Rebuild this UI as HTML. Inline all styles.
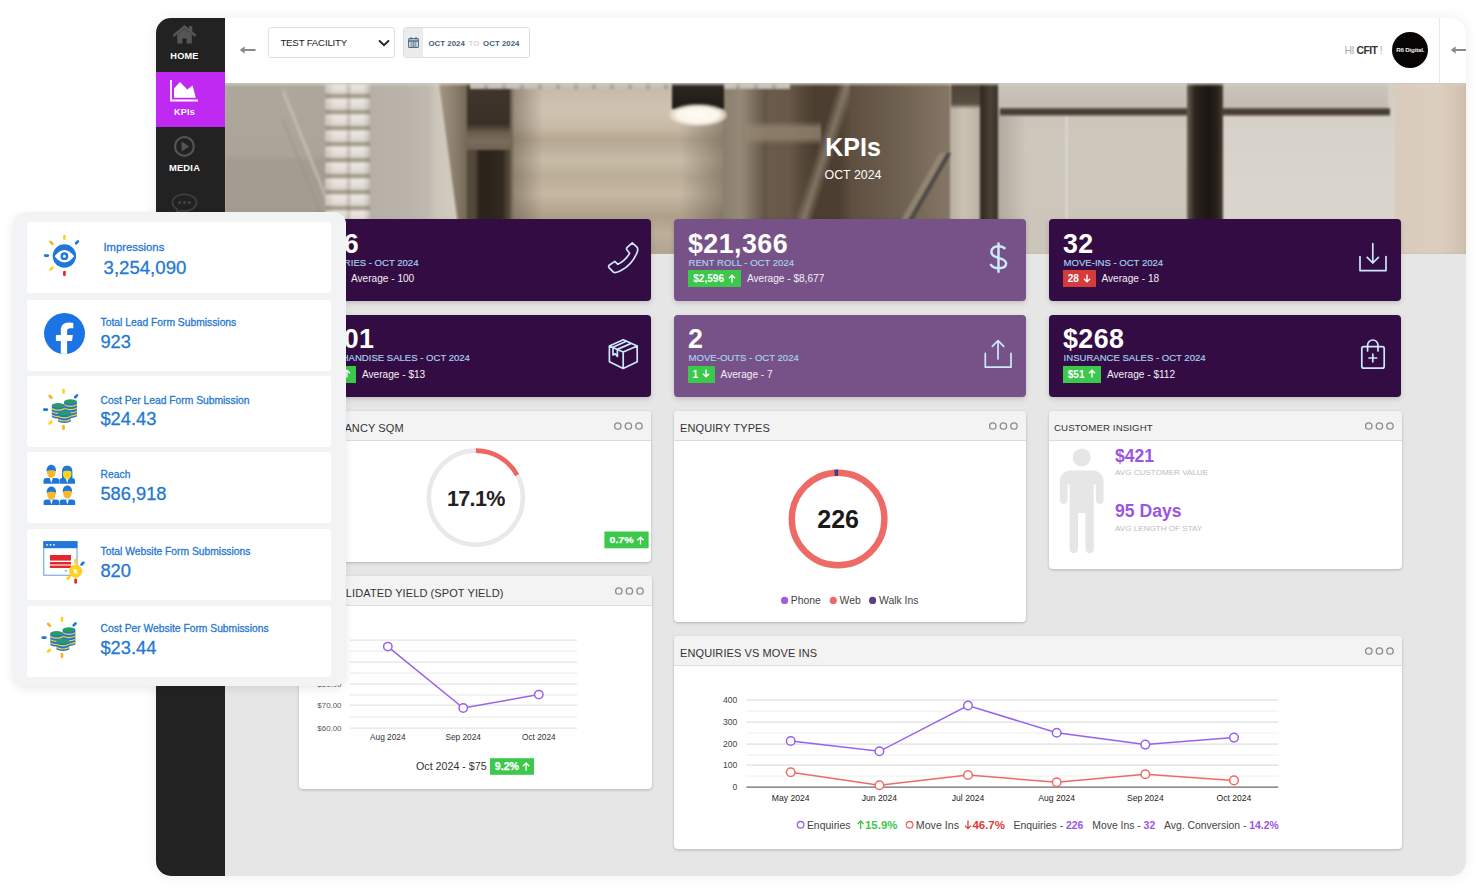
<!DOCTYPE html>
<html><head><meta charset="utf-8">
<style>
*{margin:0;padding:0;box-sizing:border-box}
html,body{width:1482px;height:894px;overflow:hidden;background:#fff;font-family:"Liberation Sans",Arial,sans-serif}
.abs{position:absolute}
#main{position:absolute;left:156px;top:18px;width:1310px;height:858px;border-radius:15px;overflow:hidden;background:#e6e6e6;box-shadow:0 0 14px rgba(0,0,0,.07)}
#side{position:absolute;left:0;top:0;width:69px;height:858px;background:#222}
.nav{position:absolute;left:0;width:69px;text-align:center;color:#fff;font-weight:700;font-size:8.6px;letter-spacing:.2px}
#header{position:absolute;left:69px;top:0;width:1241px;height:65px;background:#fff}
#hero{position:absolute;left:69px;top:65px;width:1241px;height:171px;overflow:hidden;background:#b9b3a9}
#hero div{position:absolute}
#content{position:absolute;left:0;top:0;width:1482px;height:894px;z-index:1}
#panel{z-index:2}
.tile{position:absolute;width:352px;height:82px;border-radius:4px;color:#fff;box-shadow:0 2px 5px rgba(0,0,0,.16)}
.dk{background:#330c44}
.md{background:#775289}
.tile .v{position:absolute;left:14px;top:9.6px;font-size:26.8px;font-weight:700;line-height:30px;letter-spacing:.45px}
.tile .l{position:absolute;left:14.6px;top:37.7px;font-size:9.55px;-webkit-text-stroke:.15px #a9d3f2;color:#a9d3f2;line-height:12px;white-space:nowrap}
.tile .b{position:absolute;left:14px;top:51px;height:17px;font-size:10.1px;font-weight:700;line-height:17px;text-align:center;white-space:nowrap}
.tile .a{position:absolute;top:51px;font-size:10.1px;line-height:17px;color:#f4eef6;white-space:nowrap}
.g{background:#3cc84b}
.r{background:#d63b3b}
.tile svg{position:absolute}
.tile .b svg.arr{position:relative;display:inline-block;vertical-align:-0.5px;margin-left:1px}
.card svg text{font-family:"Liberation Sans",Arial,sans-serif}
.ar{font-family:"DejaVu Sans",sans-serif;font-weight:400}
.card{position:absolute;background:#fff;border-radius:4px;box-shadow:0 1px 3px rgba(0,0,0,.22);overflow:hidden}
.card .h{position:absolute;left:0;top:0;right:0;height:30px;background:#f3f3f3;border-bottom:1px solid #dcdcdc}
.card .t{position:absolute;left:6px;top:10.6px;font-size:11px;color:#333;white-space:nowrap;letter-spacing:.1px}
.dots{position:absolute;right:7px;top:9.1px;width:40px;height:12px;z-index:2}
.dots i{position:absolute;top:0;width:9px;height:9px;border:1.4px solid #888;border-radius:50%}
#panel{position:absolute;left:13px;top:212px;width:333px;height:474px;background:#f2f3f5;border-radius:12px;box-shadow:0 3px 10px rgba(0,0,0,.085)}
.pc{position:absolute;left:14px;width:304px;height:71px;background:#fff;border-radius:3px}
.pc .pl{position:absolute;left:73px;top:17px;font-size:10.3px;color:#1f78d1;white-space:nowrap}
.pc .pv{position:absolute;left:73px;top:31px;font-size:18px;color:#1f78d1;white-space:nowrap}
.pc svg{position:absolute}
</style></head><body>

<div id="main">
  <div id="side">
    <svg class="abs" style="left:17px;top:7px" width="23" height="19" viewBox="0 0 23 19"><path d="M1.2 10.2 L11.5 1.8 L21.8 10.2" stroke="#555" stroke-width="2.6" fill="none" stroke-linecap="round"/><rect x="16" y="1" width="3.2" height="6.5" fill="#555"/><path d="M4.2 9.6 L11.5 3.8 L18.8 9.6 V18.6 H13.6 V13.4 H9.4 V18.6 H4.2Z" fill="#555"/></svg>
    <div class="nav" style="top:33px;width:57px;font-size:9.2px">HOME</div>
    <div class="abs" style="left:0;top:53.5px;width:69px;height:55.5px;background:#c029f1"></div>
    <svg class="abs" style="left:14px;top:62px" width="29" height="22" viewBox="0 0 29 22"><path d="M1 0 V20.5 H28" stroke="#fff" stroke-width="1.8" fill="none"/><path d="M4 17.8 V8.6 L10 2 L17.2 9.6 L22.6 5.4 L25.8 17.8Z" fill="#fff"/></svg>
    <div class="nav" style="top:88.5px;width:57px;font-size:9px">KPIs</div>
    <svg class="abs" style="left:17px;top:117px" width="23" height="23" viewBox="0 0 23 23"><circle cx="11.4" cy="11.4" r="9.4" stroke="#555" stroke-width="2.2" fill="none"/><path d="M8.6 6.4 L16.2 11.4 L8.6 16.4Z" fill="#555"/></svg>
    <div class="nav" style="top:144.3px;width:57px;font-size:9.4px">MEDIA</div>
    <svg class="abs" style="left:15px;top:175px" width="27" height="21" viewBox="0 0 27 21"><path d="M13.5 1.2 C20.3 1.2 25.6 4.9 25.6 9.6 C25.6 14.3 20.3 18 13.5 18 C11.8 18 10.4 17.8 9 17.4 L5.5 20 L6.2 16.2 C3.2 14.6 1.4 12.2 1.4 9.6 C1.4 4.9 6.7 1.2 13.5 1.2Z" stroke="#444" stroke-width="1.4" fill="none"/><circle cx="8.6" cy="9.6" r="1.5" fill="#444"/><circle cx="13.5" cy="9.6" r="1.5" fill="#444"/><circle cx="18.4" cy="9.6" r="1.5" fill="#444"/></svg>
  </div>
  <div id="header">
    <svg class="abs" style="left:14px;top:27px" width="17" height="10" viewBox="0 0 17 10"><path d="M16.5 5 H3" stroke="#8a8a8a" stroke-width="2"/><path d="M0.8 5 L5.6 1.2 L5.6 8.8Z" fill="#8a8a8a"/></svg>
    <div class="abs" style="left:43.4px;top:9.2px;width:126.6px;height:30.6px;border:1px solid #dedede;border-radius:3px;background:#fff">
      <div class="abs" style="left:11px;top:8.6px;font-size:9.7px;color:#222;letter-spacing:-.2px;white-space:nowrap">TEST FACILITY</div>
      <svg class="abs" style="left:109px;top:11px" width="12" height="8" viewBox="0 0 12 8"><path d="M1 1.4 L6 6.2 L11 1.4" stroke="#222" stroke-width="2" fill="none"/></svg>
    </div>
    <div class="abs" style="left:178px;top:9px;width:126.6px;height:30.8px;border:1px solid #dedede;border-radius:3px;background:#fff;overflow:hidden">
      <div class="abs" style="left:0;top:0;width:19px;height:29px;background:#ececec"></div>
      <svg class="abs" style="left:4.4px;top:9.4px" width="11" height="11" viewBox="0 0 11 11"><rect x=".6" y="1.6" width="9.8" height="8.8" rx="1" stroke="#4d6d87" stroke-width="1.1" fill="none"/><path d="M.6 4 H10.4" stroke="#4d6d87" stroke-width="1.6"/><path d="M3 0 V2.6 M8 0 V2.6" stroke="#4d6d87" stroke-width="1.1"/><path d="M2 6 H9 M2 8.2 H9 M3.8 4.6 V10 M5.5 4.6 V10 M7.2 4.6 V10" stroke="#4d6d87" stroke-width=".6"/></svg>
      <div class="abs" style="left:24.5px;top:10.9px;font-size:7.8px;font-weight:700;color:#3e5d78;white-space:nowrap;letter-spacing:.05px">OCT 2024 <span style="font-weight:400;color:#c4c4c4;margin:0 1.5px">TO</span> OCT 2024</div>
    </div>
    <div class="abs" style="left:1119.6px;top:27.2px;font-size:10.4px;line-height:12px;letter-spacing:-.5px;color:#aaa;white-space:nowrap">HI <b style="color:#333">CFIT</b> !</div>
    <div class="abs" style="left:1167.3px;top:13.6px;width:36px;height:36px;border-radius:50%;background:#070404;color:#eee;font-size:6.2px;font-weight:700;text-align:center;line-height:36px;letter-spacing:-.2px">R6 Digital.</div>
    <div class="abs" style="left:1213.5px;top:0;width:1px;height:65px;background:#e8e8e8"></div>
    <svg class="abs" style="left:1225px;top:27px" width="17" height="10" viewBox="0 0 17 10"><path d="M16.5 5 H3" stroke="#8a8a8a" stroke-width="2"/><path d="M0.8 5 L5.6 1.2 L5.6 8.8Z" fill="#8a8a8a"/></svg>
  </div>
  <div id="hero">
    <div style="left:0;top:0;width:1241px;height:171px;filter:blur(1.1px)"><div style="left:0px;top:0px;width:100px;height:171px;background:linear-gradient(180deg,#aea89c 0%,#aba599 42%,#a39c90 46%,#a39c90 100%)"></div><div style="left:58px;top:0px;width:44px;height:171px;background:linear-gradient(68deg,transparent 46%,rgba(150,144,135,.55) 48%,transparent 50%,transparent 56%,rgba(205,200,192,.7) 58%,transparent 61%)"></div><div style="left:100px;top:0px;width:45px;height:171px;background:repeating-linear-gradient(180deg,#ebe7e0 0px,#e2ddd4 8px,#cfc8bc 10.5px,#9e9688 12.5px,#b6ae9f 15px,#e6e1d9 16px)"></div><div style="left:100px;top:0px;width:45px;height:171px;background:linear-gradient(90deg,rgba(120,112,100,.25),rgba(0,0,0,0) 20%,rgba(0,0,0,0) 45%,rgba(120,112,100,.3) 52%,rgba(0,0,0,0) 60%,rgba(0,0,0,0) 85%,rgba(120,112,100,.3))"></div><div style="left:145px;top:0px;width:65px;height:171px;background:linear-gradient(90deg,#b6b0a7,#bab4ab 60%,#c2bcb2)"></div><div style="left:200px;top:0px;width:46px;height:171px;background:linear-gradient(90deg,#bcb5ab 0%,#cdc6ba 25%,#d2cbbf 70%,#c9c1b4 100%)"></div><div style="left:214px;top:0px;width:32px;height:171px;clip-path:polygon(0 0,100% 0,100% 100%,72% 100%);background:linear-gradient(90deg,#a39784,#8a7d6b 50%,#6c604f)"></div><div style="left:242px;top:0px;width:44px;height:171px;background:linear-gradient(180deg,#40362c 0%,#3a3027 24%,#6a5d4d 29%,#7b6d5c 34%,#6f6252 39%,#33291f 44%,#3a3027 75%,#40362c 100%)"></div><div style="left:242px;top:67px;width:44px;height:104px;background:linear-gradient(90deg,#54483a 0%,#54483a 18%,#2c241c 28%,#30281f 80%,#4e4336 92%)"></div><div style="left:285px;top:0px;width:10px;height:171px;background:linear-gradient(90deg,#6f6353,#8a7d6a)"></div><div style="left:288px;top:0px;width:214px;height:171px;background:linear-gradient(180deg,#c4b8a5 0%,#cec3b1 15%,#c9bdaa 25%,#b5a791 33%,#c8bca8 45%,#bcae98 55%,#c6b9a5 65%,#ae9f88 78%,#bdb09b 88%,#b2a48e 100%)"></div><div style="left:288px;top:0px;width:214px;height:171px;background:linear-gradient(90deg,rgba(95,84,70,.5) 0%,rgba(0,0,0,0) 14%,rgba(0,0,0,0) 78%,rgba(85,74,60,.5) 100%)"></div><div style="left:498px;top:0px;width:44px;height:171px;background:linear-gradient(180deg,#56493b,#63554 50%,#5a4d3f)"></div><div style="left:498px;top:0px;width:44px;height:171px;background:linear-gradient(90deg,#8a7e6c,#958977 40%,#8a7d6b 55%,#5f5243)"></div><div style="left:542px;top:0px;width:183px;height:171px;background:linear-gradient(90deg,#6a5b49 0%,#67584a 12%,#5a4b3b 18%,#4b3e30 26%,#4d4032 40%,#5e4f40 46%,#6f6150 73%,#837463 97%)"></div><div style="left:660px;top:70px;width:70px;height:101px;clip-path:polygon(88% 0,95% 0,12% 100%,5% 100%);background:#4d4944"></div><div style="left:660px;top:70px;width:70px;height:101px;clip-path:polygon(78% 0,88% 0,5% 100%,-5% 100%);background:rgba(160,148,130,.6)"></div><div style="left:520px;top:38px;width:76px;height:24px;background:linear-gradient(180deg,rgba(150,136,116,0),rgba(150,136,116,.75) 30%,rgba(150,136,116,.75) 70%,rgba(150,136,116,0))"></div><div style="left:565px;top:0px;width:60px;height:171px;background:linear-gradient(108deg,transparent 42%,rgba(165,152,134,.6) 50%,transparent 58%)"></div><div style="left:726px;top:0px;width:30px;height:171px;background:linear-gradient(90deg,#b9b0a2,#cbc2b4 40%,#c2b9ab 75%,#b7ae9f)"></div><div style="left:726px;top:0px;width:30px;height:26px;background:linear-gradient(180deg,#4d4237,#5a4e42 80%,rgba(90,78,66,0))"></div><div style="left:755px;top:0px;width:18px;height:171px;background:linear-gradient(90deg,#2f271f,#4a4036 60%,#3a3128)"></div><div style="left:773px;top:0px;width:190px;height:171px;background:linear-gradient(180deg,#c6c0b5 0%,#cdc7bc 30%,#cbc5ba 100%)"></div><div style="left:773px;top:0px;width:190px;height:171px;background:linear-gradient(90deg,rgba(150,142,130,.5) 0%,rgba(0,0,0,0) 15%)"></div><div style="left:840px;top:0px;width:3px;height:171px;background:linear-gradient(90deg,rgba(230,226,220,0),rgba(230,226,220,.9),rgba(230,226,220,0))"></div><div style="left:997px;top:0px;width:175px;height:171px;background:linear-gradient(180deg,#d2cdc4 0%,#d8d3ca 30%,#dcd7cf 100%)"></div><div style="left:773px;top:0px;width:390px;height:25px;background:linear-gradient(180deg,#cbc5bb,#c2bcb1)"></div><div style="left:775px;top:25px;width:390px;height:8px;background:linear-gradient(180deg,#6d6359,#3f362e 40%,#4a4037 70%,#8a8177)"></div><div style="left:1170px;top:0px;width:71px;height:171px;background:linear-gradient(90deg,#d9cbbb,#ddcfbf 60%,#cfbfae)"></div><div style="left:962px;top:0px;width:36px;height:171px;background:linear-gradient(90deg,#6a6055 0%,#2b241d 22%,#1b1612 60%,#2a231c 85%,#4a4138 100%)"></div><div style="left:245px;top:0px;width:320px;height:6px;background:repeating-linear-gradient(90deg,#c4bfb6 0 14px,#a8a196 14px 18px)"></div><div style="left:447px;top:0px;width:52px;height:26px;background:linear-gradient(180deg,#2d2721,#1f1a15)"></div><div style="left:444px;top:21px;width:58px;height:22px;background:radial-gradient(ellipse at center,#fffcf6 0%,#fbf5ea 50%,rgba(235,225,210,.7) 66%,rgba(235,225,210,0) 74%)"></div><div style="left:0px;top:0px;width:1241px;height:3px;background:linear-gradient(180deg,#dcd8d0,rgba(220,216,208,0))"></div></div>
    <div style="left:0;top:49.4px;width:1241px;text-align:center;padding-left:15px;color:#fff;font-weight:700;font-size:25px;line-height:30px">KPIs</div>
    <div style="left:0;top:84.6px;width:1241px;text-align:center;padding-left:15px;color:#fff;font-size:12.4px;line-height:14px">OCT 2024</div>
  </div>
</div>

<div id="content">
<div class="tile dk" style="left:299px;top:219px">
  <div class="v">226</div><div class="l">ENQUIRIES - OCT 2024</div>
  <div class="b g" style="width:32px">126 <svg class="arr" width="8" height="9" viewBox="0 0 8 9"><path d="M4 8.6 V1.2 M1 4.2 L4 1.2 L7 4.2" stroke="#fff" stroke-width="1.4" fill="none"/></svg></div><div class="a" style="left:52px">Average - 100</div>
  <svg width="352" height="82" viewBox="299 219 352 82" style="left:0;top:0" fill="none" stroke="#cde9f9" stroke-width="1.7" stroke-linejoin="round" stroke-linecap="round"><g transform="translate(608 242)"><path d="M24.2 0.9 L29 5.1 C30.2 6.6 29.6 9.4 28.6 11.6 C25.9 18 20 24.8 13 28.6 C10 30.2 7.2 30.9 5.6 30.3 L1 25.6 C0.3 24.7 0.6 23.6 1.5 23 L6.8 19.4 L9.8 22.3 C14.2 20.3 19 15.6 21.7 11.4 L18.9 7.8 C18.4 7 18.5 6.2 19 5.6 Z"/></g></svg>
</div>
<div class="tile md" style="left:674px;top:219px">
  <div class="v">$21,366</div><div class="l">RENT ROLL - OCT 2024</div>
  <div class="b g" style="width:53px">$2,596 <svg class="arr" width="8" height="9" viewBox="0 0 8 9"><path d="M4 8.6 V1.2 M1 4.2 L4 1.2 L7 4.2" stroke="#fff" stroke-width="1.4" fill="none"/></svg></div><div class="a" style="left:73px">Average - $8,677</div>
  <svg width="352" height="82" viewBox="674 219 352 82" style="left:0;top:0" fill="none" stroke="#cde9f9" stroke-width="1.7" stroke-linejoin="round" stroke-linecap="round"><path d="M1005.4 248.8 C1003.6 247 1001.3 246.2 998.5 246.2 C994.3 246.2 991.4 248.6 991.4 252 C991.4 255.8 995 256.9 998.5 257.9 C1002.9 259.1 1006.1 260.5 1006.1 263.6 C1006.1 266.7 1002.9 268.3 998.5 268.3 C995 268.3 992.1 266.9 990.4 264.2 M998.5 242.4 V272.8" stroke-width="2.5" stroke-linecap="butt"/></svg>
</div>
<div class="tile dk" style="left:1049px;top:219px">
  <div class="v">32</div><div class="l">MOVE-INS - OCT 2024</div>
  <div class="b r" style="width:32.5px">28 <svg class="arr" width="8" height="9" viewBox="0 0 8 9"><path d="M4 0.4 V7.8 M1 4.8 L4 7.8 L7 4.8" stroke="#fff" stroke-width="1.4" fill="none"/></svg></div><div class="a" style="left:52.5px">Average - 18</div>
  <svg width="352" height="82" viewBox="1049 219 352 82" style="left:0;top:0" fill="none" stroke="#cde9f9" stroke-width="1.7" stroke-linejoin="round" stroke-linecap="round"><path d="M1360 256.5 V270.6 H1386 V256.5 M1372.8 243.6 V263 M1367.2 257.4 L1372.8 263 L1378.4 257.4"/></svg>
</div>
<div class="tile dk" style="left:299px;top:314.6px">
  <div class="v">$101</div><div class="l">MERCHANDISE SALES - OCT 2024</div>
  <div class="b g" style="width:43px;text-align:right;padding-right:5px">$5 <svg class="arr" width="8" height="9" viewBox="0 0 8 9"><path d="M4 8.6 V1.2 M1 4.2 L4 1.2 L7 4.2" stroke="#fff" stroke-width="1.4" fill="none"/></svg></div><div class="a" style="left:63px">Average - $13</div>
  <svg width="352" height="82" viewBox="299 314.6 352 82" style="left:0;top:0" fill="none" stroke="#cde9f9" stroke-width="1.7" stroke-linejoin="round" stroke-linecap="round"><g transform="translate(609 339)"><path d="M14.2 0.3 L28.2 6.6 L28.2 22.4 L14.2 29 L0.4 22.4 L0.4 6.6 Z M0.4 6.6 L14.2 12.6 L28.2 6.6 M14.2 12.6 V29"/><path d="M4 7.9 L17.2 1.8 M8.4 10 L21.6 4.2 M4 7.9 V15.6 L6.2 14.4 L8.4 17 V10"/></g></svg>
</div>
<div class="tile md" style="left:674px;top:314.6px">
  <div class="v">2</div><div class="l">MOVE-OUTS - OCT 2024</div>
  <div class="b g" style="width:26.6px">1 <svg class="arr" width="8" height="9" viewBox="0 0 8 9"><path d="M4 0.4 V7.8 M1 4.8 L4 7.8 L7 4.8" stroke="#fff" stroke-width="1.4" fill="none"/></svg></div><div class="a" style="left:46.6px">Average - 7</div>
  <svg width="352" height="82" viewBox="674 314.6 352 82" style="left:0;top:0" fill="none" stroke="#cde9f9" stroke-width="1.7" stroke-linejoin="round" stroke-linecap="round"><path d="M985.3 353 V366.8 H1011 V353 M998 340.4 V358.6 M992.3 346 L998 340.3 L1003.7 346"/></svg>
</div>
<div class="tile dk" style="left:1049px;top:314.6px">
  <div class="v">$268</div><div class="l">INSURANCE SALES - OCT 2024</div>
  <div class="b g" style="width:38px">$51 <svg class="arr" width="8" height="9" viewBox="0 0 8 9"><path d="M4 8.6 V1.2 M1 4.2 L4 1.2 L7 4.2" stroke="#fff" stroke-width="1.4" fill="none"/></svg></div><div class="a" style="left:58px">Average - $112</div>
  <svg width="352" height="82" viewBox="1049 314.6 352 82" style="left:0;top:0" fill="none" stroke="#cde9f9" stroke-width="1.7" stroke-linejoin="round" stroke-linecap="round"><rect x="1361.8" y="346.2" width="22.4" height="21.6" rx="2"/><path d="M1367.6 350.6 V344.8 A5.2 5.2 0 0 1 1378 344.8 V350.6 M1372.8 353.8 V361.4 M1369 357.6 H1376.6"/></svg>
</div>
<div class="card" style="left:299px;top:411px;width:352px;height:151px">
  <div class="h"></div><div class="t" style="">OCCUPANCY SQM</div>
  <svg class="dots" width="40" height="12" viewBox="0 0 40 12"><g fill="none" stroke="#8c8c8c" stroke-width="1.3"><circle cx="13.8" cy="6" r="3.2"/><circle cx="24.4" cy="6" r="3.2"/><circle cx="35" cy="6" r="3.2"/></g></svg>
  <svg class="abs" style="left:0;top:0" width="352" height="151" viewBox="299 411 352 151"><circle cx="475.9" cy="497.6" r="47" fill="none" stroke="#e9e9e9" stroke-width="4.6"/><path d="M475.9 450.6 A47 47 0 0 1 517.23 475.22" fill="none" stroke="#ef6561" stroke-width="4.6"/><text x="475.9" y="505.6" text-anchor="middle" font-size="21.5" font-weight="700" fill="#222" letter-spacing="-0.6">17.1%</text><rect x="604.4" y="531.5" width="44.2" height="16.8" fill="#3cc84b"/><text x="609.6" y="543.4" font-size="9.8" font-weight="700" fill="#fff" stroke="#fff" stroke-width=".25" textLength="24" lengthAdjust="spacingAndGlyphs">0.7%</text><path d="M640.5 544.4 V537.2 M637.4 540.3 L640.5 537.2 L643.6 540.3" stroke="#fff" stroke-width="1.3" fill="none"/></svg>
</div>
<div class="card" style="left:674px;top:411px;width:352px;height:210.5px">
  <div class="h"></div><div class="t" style="">ENQUIRY TYPES</div>
  <svg class="dots" width="40" height="12" viewBox="0 0 40 12"><g fill="none" stroke="#8c8c8c" stroke-width="1.3"><circle cx="13.8" cy="6" r="3.2"/><circle cx="24.4" cy="6" r="3.2"/><circle cx="35" cy="6" r="3.2"/></g></svg>
  <svg class="abs" style="left:0;top:0" width="352" height="210.5" viewBox="674 411 352 210.5"><circle cx="838.1" cy="519" r="46.3" fill="none" stroke="#ee6a66" stroke-width="6.4"/><path d="M834.61 472.83 A46.3 46.3 0 0 1 838.1 472.7" fill="none" stroke="#4b3a7a" stroke-width="6.4"/><text x="838.1" y="528" text-anchor="middle" font-size="25" font-weight="700" fill="#1a1a1a">226</text><circle cx="784.6" cy="600.4" r="3.6" fill="#a25be8"/><text x="790.8" y="604" font-size="10.4" fill="#444">Phone</text><circle cx="833.3" cy="600.4" r="3.6" fill="#ee6a66"/><text x="839.6" y="604" font-size="10.4" fill="#444">Web</text><circle cx="872.6" cy="600.4" r="3.6" fill="#5b3f88"/><text x="879" y="604" font-size="10.4" fill="#444">Walk Ins</text></svg>
</div>
<div class="card" style="left:1049px;top:411px;width:352.5px;height:158px">
  <div class="h"></div><div class="t" style="font-size:9.7px;top:11px;left:5px">CUSTOMER INSIGHT</div>
  <svg class="dots" width="40" height="12" viewBox="0 0 40 12"><g fill="none" stroke="#8c8c8c" stroke-width="1.3"><circle cx="13.8" cy="6" r="3.2"/><circle cx="24.4" cy="6" r="3.2"/><circle cx="35" cy="6" r="3.2"/></g></svg>
  <svg class="abs" style="left:0;top:0" width="352.5" height="158" viewBox="1049 411 352.5 158"><g fill="#e6e6e6"><circle cx="1081.7" cy="457.6" r="9"/><path d="M1071 470.5 H1092.4 C1098.5 470.5 1103.6 475 1103.6 481 V500 C1103.6 502.6 1101.8 504 1099.7 504 C1097.6 504 1095.8 502.6 1095.8 500 V484.5 H1093.8 V549 C1093.8 551.6 1092 553.2 1089.6 553.2 C1087.2 553.2 1085.4 551.6 1085.4 549 V513 H1078 V549 C1078 551.6 1076.2 553.2 1073.8 553.2 C1071.4 553.2 1069.6 551.6 1069.6 549 V484.5 H1067.6 V500 C1067.6 502.6 1065.8 504 1063.7 504 C1061.6 504 1059.8 502.6 1059.8 500 V481 C1059.8 475 1064.9 470.5 1071 470.5Z"/></g><text x="1115" y="462" font-size="17.6" font-weight="700" fill="#9b55e2">$421</text><text x="1115" y="475.4" font-size="8.1" fill="#bdbdbd">AVG CUSTOMER VALUE</text><text x="1115" y="516.8" font-size="17.6" font-weight="700" fill="#9b55e2">95 Days</text><text x="1115" y="530.8" font-size="8.1" fill="#bdbdbd">AVG LENGTH OF STAY</text></svg>
</div>
<div class="card" style="left:299px;top:576.4px;width:352.5px;height:213px">
  <div class="h"></div><div class="t" style="">CONSOLIDATED YIELD (SPOT YIELD)</div>
  <svg class="dots" width="40" height="12" viewBox="0 0 40 12"><g fill="none" stroke="#8c8c8c" stroke-width="1.3"><circle cx="13.8" cy="6" r="3.2"/><circle cx="24.4" cy="6" r="3.2"/><circle cx="35" cy="6" r="3.2"/></g></svg>
  <svg class="abs" style="left:0;top:0" width="352.5" height="213" viewBox="299 576.4 352.5 213"><line x1="349.7" x2="577.2" y1="640.5" y2="640.5" stroke="#dedede" stroke-width="1"/><line x1="349.7" x2="577.2" y1="651.5" y2="651.5" stroke="#e9e9e9" stroke-width="1"/><line x1="349.7" x2="577.2" y1="662.5" y2="662.5" stroke="#dedede" stroke-width="1"/><line x1="349.7" x2="577.2" y1="673.5" y2="673.5" stroke="#e9e9e9" stroke-width="1"/><line x1="349.7" x2="577.2" y1="684.5" y2="684.5" stroke="#dedede" stroke-width="1"/><line x1="349.7" x2="577.2" y1="695.5" y2="695.5" stroke="#e9e9e9" stroke-width="1"/><line x1="349.7" x2="577.2" y1="705.5" y2="705.5" stroke="#dedede" stroke-width="1"/><line x1="349.7" x2="577.2" y1="717.5" y2="717.5" stroke="#e9e9e9" stroke-width="1"/><line x1="349.7" x2="577.2" y1="728.5" y2="728.5" stroke="#dedede" stroke-width="1"/><text x="341.5" y="643" text-anchor="end" font-size="7.9" fill="#555">$100.00</text><text x="341.5" y="665.4" text-anchor="end" font-size="7.9" fill="#555">$90.00</text><text x="341.5" y="687.3" text-anchor="end" font-size="7.9" fill="#555">$80.00</text><text x="341.5" y="708.9" text-anchor="end" font-size="7.9" fill="#555">$70.00</text><text x="341.5" y="731" text-anchor="end" font-size="7.9" fill="#555">$60.00</text><polyline points="387.8,647 463.2,708.4 538.8,695" fill="none" stroke="#9a62ea" stroke-width="1.5"/><circle cx="387.8" cy="647" r="4.2" fill="#fff" stroke="#9a62ea" stroke-width="1.5"/><circle cx="463.2" cy="708.4" r="4.2" fill="#fff" stroke="#9a62ea" stroke-width="1.5"/><circle cx="538.8" cy="695" r="4.2" fill="#fff" stroke="#9a62ea" stroke-width="1.5"/><text x="387.8" y="740.5" text-anchor="middle" font-size="8.3" fill="#333">Aug 2024</text><text x="463.2" y="740.5" text-anchor="middle" font-size="8.3" fill="#333">Sep 2024</text><text x="538.8" y="740.5" text-anchor="middle" font-size="8.3" fill="#333">Oct 2024</text><text x="416" y="770.6" font-size="10.7" fill="#333">Oct 2024 - $75</text><rect x="490" y="758.6" width="44" height="16.6" fill="#3cc84b"/><text x="494.8" y="770.3" font-size="10.2" font-weight="700" fill="#fff" stroke="#fff" stroke-width=".25" textLength="24.2" lengthAdjust="spacingAndGlyphs">9.2%</text><path d="M526.1 771.2 V763.4 M522.9 766.6 L526.1 763.4 L529.3 766.6" stroke="#fff" stroke-width="1.3" fill="none"/></svg>
</div>
<div class="card" style="left:674px;top:636.4px;width:727.5px;height:212.8px">
  <div class="h"></div><div class="t" style="">ENQUIRIES VS MOVE INS</div>
  <svg class="dots" width="40" height="12" viewBox="0 0 40 12"><g fill="none" stroke="#8c8c8c" stroke-width="1.3"><circle cx="13.8" cy="6" r="3.2"/><circle cx="24.4" cy="6" r="3.2"/><circle cx="35" cy="6" r="3.2"/></g></svg>
  <svg class="abs" style="left:0;top:0" width="727.5" height="212.8" viewBox="674 636.4 727.5 212.8"><line x1="746.4" x2="1278.3" y1="700.5" y2="700.5" stroke="#d6d6d6" stroke-width="1"/><line x1="746.4" x2="1278.3" y1="711.5" y2="711.5" stroke="#efefef" stroke-width="1"/><line x1="746.4" x2="1278.3" y1="722.5" y2="722.5" stroke="#d6d6d6" stroke-width="1"/><line x1="746.4" x2="1278.3" y1="733.5" y2="733.5" stroke="#efefef" stroke-width="1"/><line x1="746.4" x2="1278.3" y1="744.5" y2="744.5" stroke="#d6d6d6" stroke-width="1"/><line x1="746.4" x2="1278.3" y1="755.5" y2="755.5" stroke="#efefef" stroke-width="1"/><line x1="746.4" x2="1278.3" y1="765.5" y2="765.5" stroke="#d6d6d6" stroke-width="1"/><line x1="746.4" x2="1278.3" y1="776.5" y2="776.5" stroke="#efefef" stroke-width="1"/><line x1="746.4" x2="1278.3" y1="787.5" y2="787.5" stroke="#444" stroke-width="1"/><text x="737.4" y="703.3" text-anchor="end" font-size="8.6" fill="#444">400</text><text x="737.4" y="725.4" text-anchor="end" font-size="8.6" fill="#444">300</text><text x="737.4" y="747.3" text-anchor="end" font-size="8.6" fill="#444">200</text><text x="737.4" y="768.9" text-anchor="end" font-size="8.6" fill="#444">100</text><text x="737.4" y="790.5" text-anchor="end" font-size="8.6" fill="#444">0</text><polyline points="790.7,741.4 879.4,751.7 968.0,705.9 1056.7,733.2 1145.3,745 1234.0,738" fill="none" stroke="#9a62ea" stroke-width="1.5"/><polyline points="790.7,772.6 879.4,785.7 968.0,775.4 1056.7,782.6 1145.3,774.6 1234.0,780.8" fill="none" stroke="#ee6a66" stroke-width="1.5"/><circle cx="790.7" cy="741.4" r="4.3" fill="#fff" stroke="#9a62ea" stroke-width="1.5"/><circle cx="879.4" cy="751.7" r="4.3" fill="#fff" stroke="#9a62ea" stroke-width="1.5"/><circle cx="968.0" cy="705.9" r="4.3" fill="#fff" stroke="#9a62ea" stroke-width="1.5"/><circle cx="1056.7" cy="733.2" r="4.3" fill="#fff" stroke="#9a62ea" stroke-width="1.5"/><circle cx="1145.3" cy="745" r="4.3" fill="#fff" stroke="#9a62ea" stroke-width="1.5"/><circle cx="1234.0" cy="738" r="4.3" fill="#fff" stroke="#9a62ea" stroke-width="1.5"/><circle cx="790.7" cy="772.6" r="4.3" fill="#fff" stroke="#ee6a66" stroke-width="1.5"/><circle cx="879.4" cy="785.7" r="4.3" fill="#fff" stroke="#ee6a66" stroke-width="1.5"/><circle cx="968.0" cy="775.4" r="4.3" fill="#fff" stroke="#ee6a66" stroke-width="1.5"/><circle cx="1056.7" cy="782.6" r="4.3" fill="#fff" stroke="#ee6a66" stroke-width="1.5"/><circle cx="1145.3" cy="774.6" r="4.3" fill="#fff" stroke="#ee6a66" stroke-width="1.5"/><circle cx="1234.0" cy="780.8" r="4.3" fill="#fff" stroke="#ee6a66" stroke-width="1.5"/><text x="790.7" y="801.6" text-anchor="middle" font-size="8.6" fill="#222">May 2024</text><text x="879.4" y="801.6" text-anchor="middle" font-size="8.6" fill="#222">Jun 2024</text><text x="968.0" y="801.6" text-anchor="middle" font-size="8.6" fill="#222">Jul 2024</text><text x="1056.7" y="801.6" text-anchor="middle" font-size="8.6" fill="#222">Aug 2024</text><text x="1145.3" y="801.6" text-anchor="middle" font-size="8.6" fill="#222">Sep 2024</text><text x="1234.0" y="801.6" text-anchor="middle" font-size="8.6" fill="#222">Oct 2024</text><circle cx="800.6" cy="825.2" r="3.3" fill="none" stroke="#9a62ea" stroke-width="1.3"/><text x="806.9" y="829" font-size="10.4" fill="#444" textLength="43.6" lengthAdjust="spacingAndGlyphs">Enquiries</text>
<path d="M860.6 829.4 V821.4 M857.6 824.4 L860.6 821.4 L863.6 824.4" stroke="#3cc84b" stroke-width="1.3" fill="none"/><text x="865" y="829" font-size="10.4" fill="#3cc84b" font-weight="700" textLength="32.5" lengthAdjust="spacingAndGlyphs">15.9%</text>
<circle cx="909.6" cy="825.2" r="3.3" fill="none" stroke="#ee6a66" stroke-width="1.3"/><text x="915.8" y="829" font-size="10.4" fill="#444" textLength="43.2" lengthAdjust="spacingAndGlyphs">Move Ins</text>
<path d="M968 821 V829 M965 826 L968 829 L971 826" stroke="#e0393b" stroke-width="1.3" fill="none"/><text x="972.4" y="829" font-size="10.4" fill="#e0393b" font-weight="700" textLength="32.6" lengthAdjust="spacingAndGlyphs">46.7%</text>
<text x="1013.5" y="829" font-size="10.4" fill="#444">Enquiries - <tspan fill="#9b55e2" font-weight="700">226</tspan></text>
<text x="1092.3" y="829" font-size="10.4" fill="#444">Move Ins - <tspan fill="#9b55e2" font-weight="700">32</tspan></text>
<text x="1164" y="829" font-size="10.4" fill="#444" textLength="114.8" lengthAdjust="spacingAndGlyphs">Avg. Conversion - <tspan fill="#9b55e2" font-weight="700">14.2%</tspan></text></svg>
</div>
</div>

<div id="panel">
  <div class="pc" style="top:10px"></div><div class="pc" style="top:87.5px"></div><div class="pc" style="top:164px"></div>
  <div class="pc" style="top:240px"></div><div class="pc" style="top:317px"></div><div class="pc" style="top:394px"></div>
  <svg class="abs" style="left:0;top:0" width="332" height="474" viewBox="13 212 332 474">
  <circle cx="64.4" cy="256" r="11.7" fill="#1f78d8"/><path d="M54.6 256.2 Q64.4 243.8 74.2 256.2 Q64.4 268.6 54.6 256.2Z" fill="#fff"/><circle cx="64.4" cy="256.2" r="3.9" fill="#1f78d8"/><circle cx="64.4" cy="256.2" r="1.5" fill="#fff"/><line x1="64.40" y1="238.70" x2="64.40" y2="236.10" stroke="#ffd31c" stroke-width="2.7" stroke-linecap="round"/><line x1="52.32" y1="243.72" x2="50.48" y2="241.88" stroke="#f9b423" stroke-width="2.7" stroke-linecap="round"/><line x1="76.08" y1="243.22" x2="77.92" y2="241.38" stroke="#1f78d8" stroke-width="2.7" stroke-linecap="round"/><line x1="45.20" y1="255.60" x2="47.80" y2="255.60" stroke="#1f78d8" stroke-width="2.7" stroke-linecap="round"/><line x1="50.48" y1="269.52" x2="52.32" y2="267.68" stroke="#ffd31c" stroke-width="2.7" stroke-linecap="round"/><line x1="64.40" y1="274.80" x2="64.40" y2="272.20" stroke="#e3262f" stroke-width="2.7" stroke-linecap="round"/><circle cx="64.5" cy="333.5" r="20.5" fill="#1b74e4"/><path d="M60.8 353.7 V340.9 H55.9 V334.9 H60.8 V330.6 C60.8 325.4 63.7 322.6 68.6 322.6 C70.6 322.6 72.1 322.8 73.3 323 V328.2 H70.4 C68 328.2 67.1 329.4 67.1 331.3 V334.9 H72.9 L72 340.9 H67.1 V354 Z" fill="#fff"/><g transform="translate(0.0 0)"><rect x="64.1" y="401.6" width="12.8" height="14.300000000000011" fill="#1f78d8"/><ellipse cx="70.5" cy="415.90000000000003" rx="6.4" ry="2" fill="#1f78d8"/><path d="M64.1 404.8 Q70.5 408.0 76.9 404.8" stroke="#ffd31c" stroke-width="1.2" fill="none"/><path d="M64.1 408.0 Q70.5 411.2 76.9 408.0" stroke="#ffd31c" stroke-width="1.2" fill="none"/><path d="M64.1 411.20000000000005 Q70.5 414.40000000000003 76.9 411.20000000000005" stroke="#ffd31c" stroke-width="1.2" fill="none"/><path d="M64.1 414.40000000000003 Q70.5 417.6 76.9 414.40000000000003" stroke="#ffd31c" stroke-width="1.2" fill="none"/><ellipse cx="70.5" cy="401.6" rx="6.4" ry="2.3" fill="#2a9a68"/><rect x="51.800000000000004" y="405.4" width="12.8" height="11.100000000000023" fill="#1f78d8"/><ellipse cx="58.2" cy="416.5" rx="6.4" ry="2" fill="#1f78d8"/><path d="M51.800000000000004 408.59999999999997 Q58.2 411.79999999999995 64.60000000000001 408.59999999999997" stroke="#ffd31c" stroke-width="1.2" fill="none"/><path d="M51.800000000000004 411.79999999999995 Q58.2 414.99999999999994 64.60000000000001 411.79999999999995" stroke="#ffd31c" stroke-width="1.2" fill="none"/><path d="M51.800000000000004 415.0 Q58.2 418.2 64.60000000000001 415.0" stroke="#ffd31c" stroke-width="1.2" fill="none"/><ellipse cx="58.2" cy="405.4" rx="6.4" ry="2.3" fill="#2a9a68"/><rect x="58.00000000000001" y="413" width="12.8" height="7.899999999999977" fill="#1f78d8"/><ellipse cx="64.4" cy="420.9" rx="6.4" ry="2" fill="#1f78d8"/><path d="M58.00000000000001 416.2 Q64.4 419.4 70.80000000000001 416.2" stroke="#ffd31c" stroke-width="1.2" fill="none"/><path d="M58.00000000000001 419.4 Q64.4 422.59999999999997 70.80000000000001 419.4" stroke="#ffd31c" stroke-width="1.2" fill="none"/><ellipse cx="64.4" cy="413" rx="6.4" ry="2.3" fill="#2a9a68"/></g><line x1="63.50" y1="392.70" x2="63.50" y2="390.10" stroke="#ffd31c" stroke-width="2.7" stroke-linecap="round"/><line x1="51.42" y1="397.72" x2="49.58" y2="395.88" stroke="#f9b423" stroke-width="2.7" stroke-linecap="round"/><line x1="75.18" y1="397.22" x2="77.02" y2="395.38" stroke="#1f78d8" stroke-width="2.7" stroke-linecap="round"/><line x1="44.30" y1="409.60" x2="46.90" y2="409.60" stroke="#1f78d8" stroke-width="2.7" stroke-linecap="round"/><line x1="49.58" y1="423.52" x2="51.42" y2="421.68" stroke="#ffd31c" stroke-width="2.7" stroke-linecap="round"/><line x1="63.50" y1="428.80" x2="63.50" y2="426.20" stroke="#f9b423" stroke-width="2.7" stroke-linecap="round"/><path d="M43.5 483.8 V480.4 C43.5 478.8 44.9 478 46.699999999999996 478 H55.9 C57.699999999999996 478 59.099999999999994 478.8 59.099999999999994 480.4 V483.8Z" fill="#1f78d8"/><path d="M49.8 478 L51.3 483.2 L52.8 478Z" fill="#fff"/><ellipse cx="51.3" cy="472.4" rx="4.3" ry="5.6" fill="#fbb72a"/><path d="M46.5 471.59999999999997 C46.5 466.79999999999995 48.699999999999996 464.79999999999995 51.3 464.79999999999995 C53.9 464.79999999999995 56.099999999999994 466.79999999999995 56.099999999999994 471.59999999999997 C54.3 469.79999999999995 48.3 469.79999999999995 46.5 471.59999999999997Z" fill="#1f78d8"/><path d="M62.0 479 V471.8 C62.0 467.3 64.4 465.8 67.2 465.8 C70.0 465.8 72.4 467.3 72.4 471.8 V479Z" fill="#1f78d8"/><path d="M59.400000000000006 483.8 V480.4 C59.400000000000006 478.8 60.800000000000004 478 62.6 478 H71.8 C73.60000000000001 478 75.0 478.8 75.0 480.4 V483.8Z" fill="#1f78d8"/><path d="M65.7 478 L67.2 483.2 L68.7 478Z" fill="#fff"/><ellipse cx="67.2" cy="473.8" rx="4.3" ry="5.6" fill="#ffd31c"/><path d="M62.6 471.8 C62.800000000000004 467.40000000000003 64.8 466.2 67.2 466.2 C69.60000000000001 466.2 71.60000000000001 467.40000000000003 71.8 471.8 C69.8 470.40000000000003 64.60000000000001 470.40000000000003 62.6 471.8Z" fill="#1f78d8"/><path d="M43.6 505 V502.0 C43.6 500.40000000000003 45.0 499.6 46.8 499.6 H56.0 C57.8 499.6 59.199999999999996 500.40000000000003 59.199999999999996 502.0 V505Z" fill="#1f78d8"/><path d="M49.9 499.6 L51.4 504.4 L52.9 499.6Z" fill="#fff"/><ellipse cx="51.4" cy="494" rx="4.3" ry="5.6" fill="#fbb72a"/><path d="M46.6 493.2 C46.6 488.4 48.8 486.4 51.4 486.4 C54.0 486.4 56.199999999999996 488.4 56.199999999999996 493.2 C54.4 491.4 48.4 491.4 46.6 493.2Z" fill="#1f78d8"/><path d="M59.60000000000001 505 V502.0 C59.60000000000001 500.40000000000003 61.00000000000001 499.6 62.800000000000004 499.6 H72.0 C73.80000000000001 499.6 75.2 500.40000000000003 75.2 502.0 V505Z" fill="#1f78d8"/><path d="M65.9 499.6 L67.4 504.4 L68.9 499.6Z" fill="#fff"/><ellipse cx="67.4" cy="493" rx="4.3" ry="5.6" fill="#fbb72a"/><path d="M62.60000000000001 492.2 C62.60000000000001 487.4 64.80000000000001 485.4 67.4 485.4 C70.0 485.4 72.2 487.4 72.2 492.2 C70.4 490.4 64.4 490.4 62.60000000000001 492.2Z" fill="#1f78d8"/><rect x="43.8" y="541.6" width="33.2" height="33.6" fill="#fff" stroke="#4f93e6" stroke-width=".9"/><rect x="43.4" y="541.2" width="34" height="7" fill="#1f78d8"/>
<circle cx="47" cy="544.8" r=".9" fill="#fff"/><circle cx="50.5" cy="544.8" r=".9" fill="#fff"/><circle cx="54" cy="544.8" r=".9" fill="#fff"/>
<rect x="50" y="555" width="21" height="5.6" fill="#e3262f"/><rect x="50" y="562" width="21" height="6" fill="#e3262f"/><rect x="50" y="564.2" width="21" height="1.6" fill="#f3b7b0"/>
<circle cx="65.9" cy="570.8" r=".8" fill="#1f78d8"/><circle cx="75.6" cy="571.2" r="6.6" fill="#ffd31c"/><path d="M73.4 568.6 L78 570.8 L76 571.4 L77.8 573.4 L77 574.2 L75.2 572.2 L74.4 574.2Z" fill="#fff"/>
<line x1="75.60" y1="562.60" x2="75.60" y2="560.00" stroke="#ffd31c" stroke-width="2.7" stroke-linecap="round"/><line x1="81.58" y1="564.52" x2="83.42" y2="562.68" stroke="#1f78d8" stroke-width="2.7" stroke-linecap="round"/><line x1="67.68" y1="578.72" x2="69.52" y2="576.88" stroke="#ffd31c" stroke-width="2.7" stroke-linecap="round"/><line x1="75.60" y1="582.50" x2="75.60" y2="579.90" stroke="#e3262f" stroke-width="2.7" stroke-linecap="round"/><g transform="translate(-1.5 228)"><rect x="64.1" y="401.6" width="12.8" height="14.300000000000011" fill="#1f78d8"/><ellipse cx="70.5" cy="415.90000000000003" rx="6.4" ry="2" fill="#1f78d8"/><path d="M64.1 404.8 Q70.5 408.0 76.9 404.8" stroke="#ffd31c" stroke-width="1.2" fill="none"/><path d="M64.1 408.0 Q70.5 411.2 76.9 408.0" stroke="#ffd31c" stroke-width="1.2" fill="none"/><path d="M64.1 411.20000000000005 Q70.5 414.40000000000003 76.9 411.20000000000005" stroke="#ffd31c" stroke-width="1.2" fill="none"/><path d="M64.1 414.40000000000003 Q70.5 417.6 76.9 414.40000000000003" stroke="#ffd31c" stroke-width="1.2" fill="none"/><ellipse cx="70.5" cy="401.6" rx="6.4" ry="2.3" fill="#2a9a68"/><rect x="51.800000000000004" y="405.4" width="12.8" height="11.100000000000023" fill="#1f78d8"/><ellipse cx="58.2" cy="416.5" rx="6.4" ry="2" fill="#1f78d8"/><path d="M51.800000000000004 408.59999999999997 Q58.2 411.79999999999995 64.60000000000001 408.59999999999997" stroke="#ffd31c" stroke-width="1.2" fill="none"/><path d="M51.800000000000004 411.79999999999995 Q58.2 414.99999999999994 64.60000000000001 411.79999999999995" stroke="#ffd31c" stroke-width="1.2" fill="none"/><path d="M51.800000000000004 415.0 Q58.2 418.2 64.60000000000001 415.0" stroke="#ffd31c" stroke-width="1.2" fill="none"/><ellipse cx="58.2" cy="405.4" rx="6.4" ry="2.3" fill="#2a9a68"/><rect x="58.00000000000001" y="413" width="12.8" height="7.899999999999977" fill="#1f78d8"/><ellipse cx="64.4" cy="420.9" rx="6.4" ry="2" fill="#1f78d8"/><path d="M58.00000000000001 416.2 Q64.4 419.4 70.80000000000001 416.2" stroke="#ffd31c" stroke-width="1.2" fill="none"/><path d="M58.00000000000001 419.4 Q64.4 422.59999999999997 70.80000000000001 419.4" stroke="#ffd31c" stroke-width="1.2" fill="none"/><ellipse cx="64.4" cy="413" rx="6.4" ry="2.3" fill="#2a9a68"/></g><line x1="62.00" y1="620.70" x2="62.00" y2="618.10" stroke="#ffd31c" stroke-width="2.7" stroke-linecap="round"/><line x1="49.92" y1="625.72" x2="48.08" y2="623.88" stroke="#f9b423" stroke-width="2.7" stroke-linecap="round"/><line x1="73.68" y1="625.22" x2="75.52" y2="623.38" stroke="#1f78d8" stroke-width="2.7" stroke-linecap="round"/><line x1="42.80" y1="637.60" x2="45.40" y2="637.60" stroke="#1f78d8" stroke-width="2.7" stroke-linecap="round"/><line x1="48.08" y1="651.52" x2="49.92" y2="649.68" stroke="#ffd31c" stroke-width="2.7" stroke-linecap="round"/><line x1="62.00" y1="656.80" x2="62.00" y2="654.20" stroke="#f9b423" stroke-width="2.7" stroke-linecap="round"/>
  <g font-family="Liberation Sans, Arial, sans-serif" fill="#1f78d1" stroke="#1f78d1" stroke-width="0.28">
  <text x="103.4" y="251.2" font-size="11.3">Impressions</text><text x="103.6" y="274" font-size="18.6">3,254,090</text>
  <text x="100.6" y="326" font-size="10.3">Total Lead Form Submissions</text><text x="100.4" y="348" font-size="18.3">923</text>
  <text x="100.6" y="403.5" font-size="10.3">Cost Per Lead Form Submission</text><text x="100.4" y="425.3" font-size="18.3">$24.43</text>
  <text x="100.6" y="478.4" font-size="10.3">Reach</text><text x="100.4" y="500.2" font-size="18.3">586,918</text>
  <text x="100.6" y="555.4" font-size="10.3">Total Website Form Submissions</text><text x="100.4" y="577.2" font-size="18.3">820</text>
  <text x="100.6" y="632.4" font-size="10.3">Cost Per Website Form Submissions</text><text x="100.4" y="654.2" font-size="18.3">$23.44</text>
  </g>
  </svg>
</div>

</body></html>
